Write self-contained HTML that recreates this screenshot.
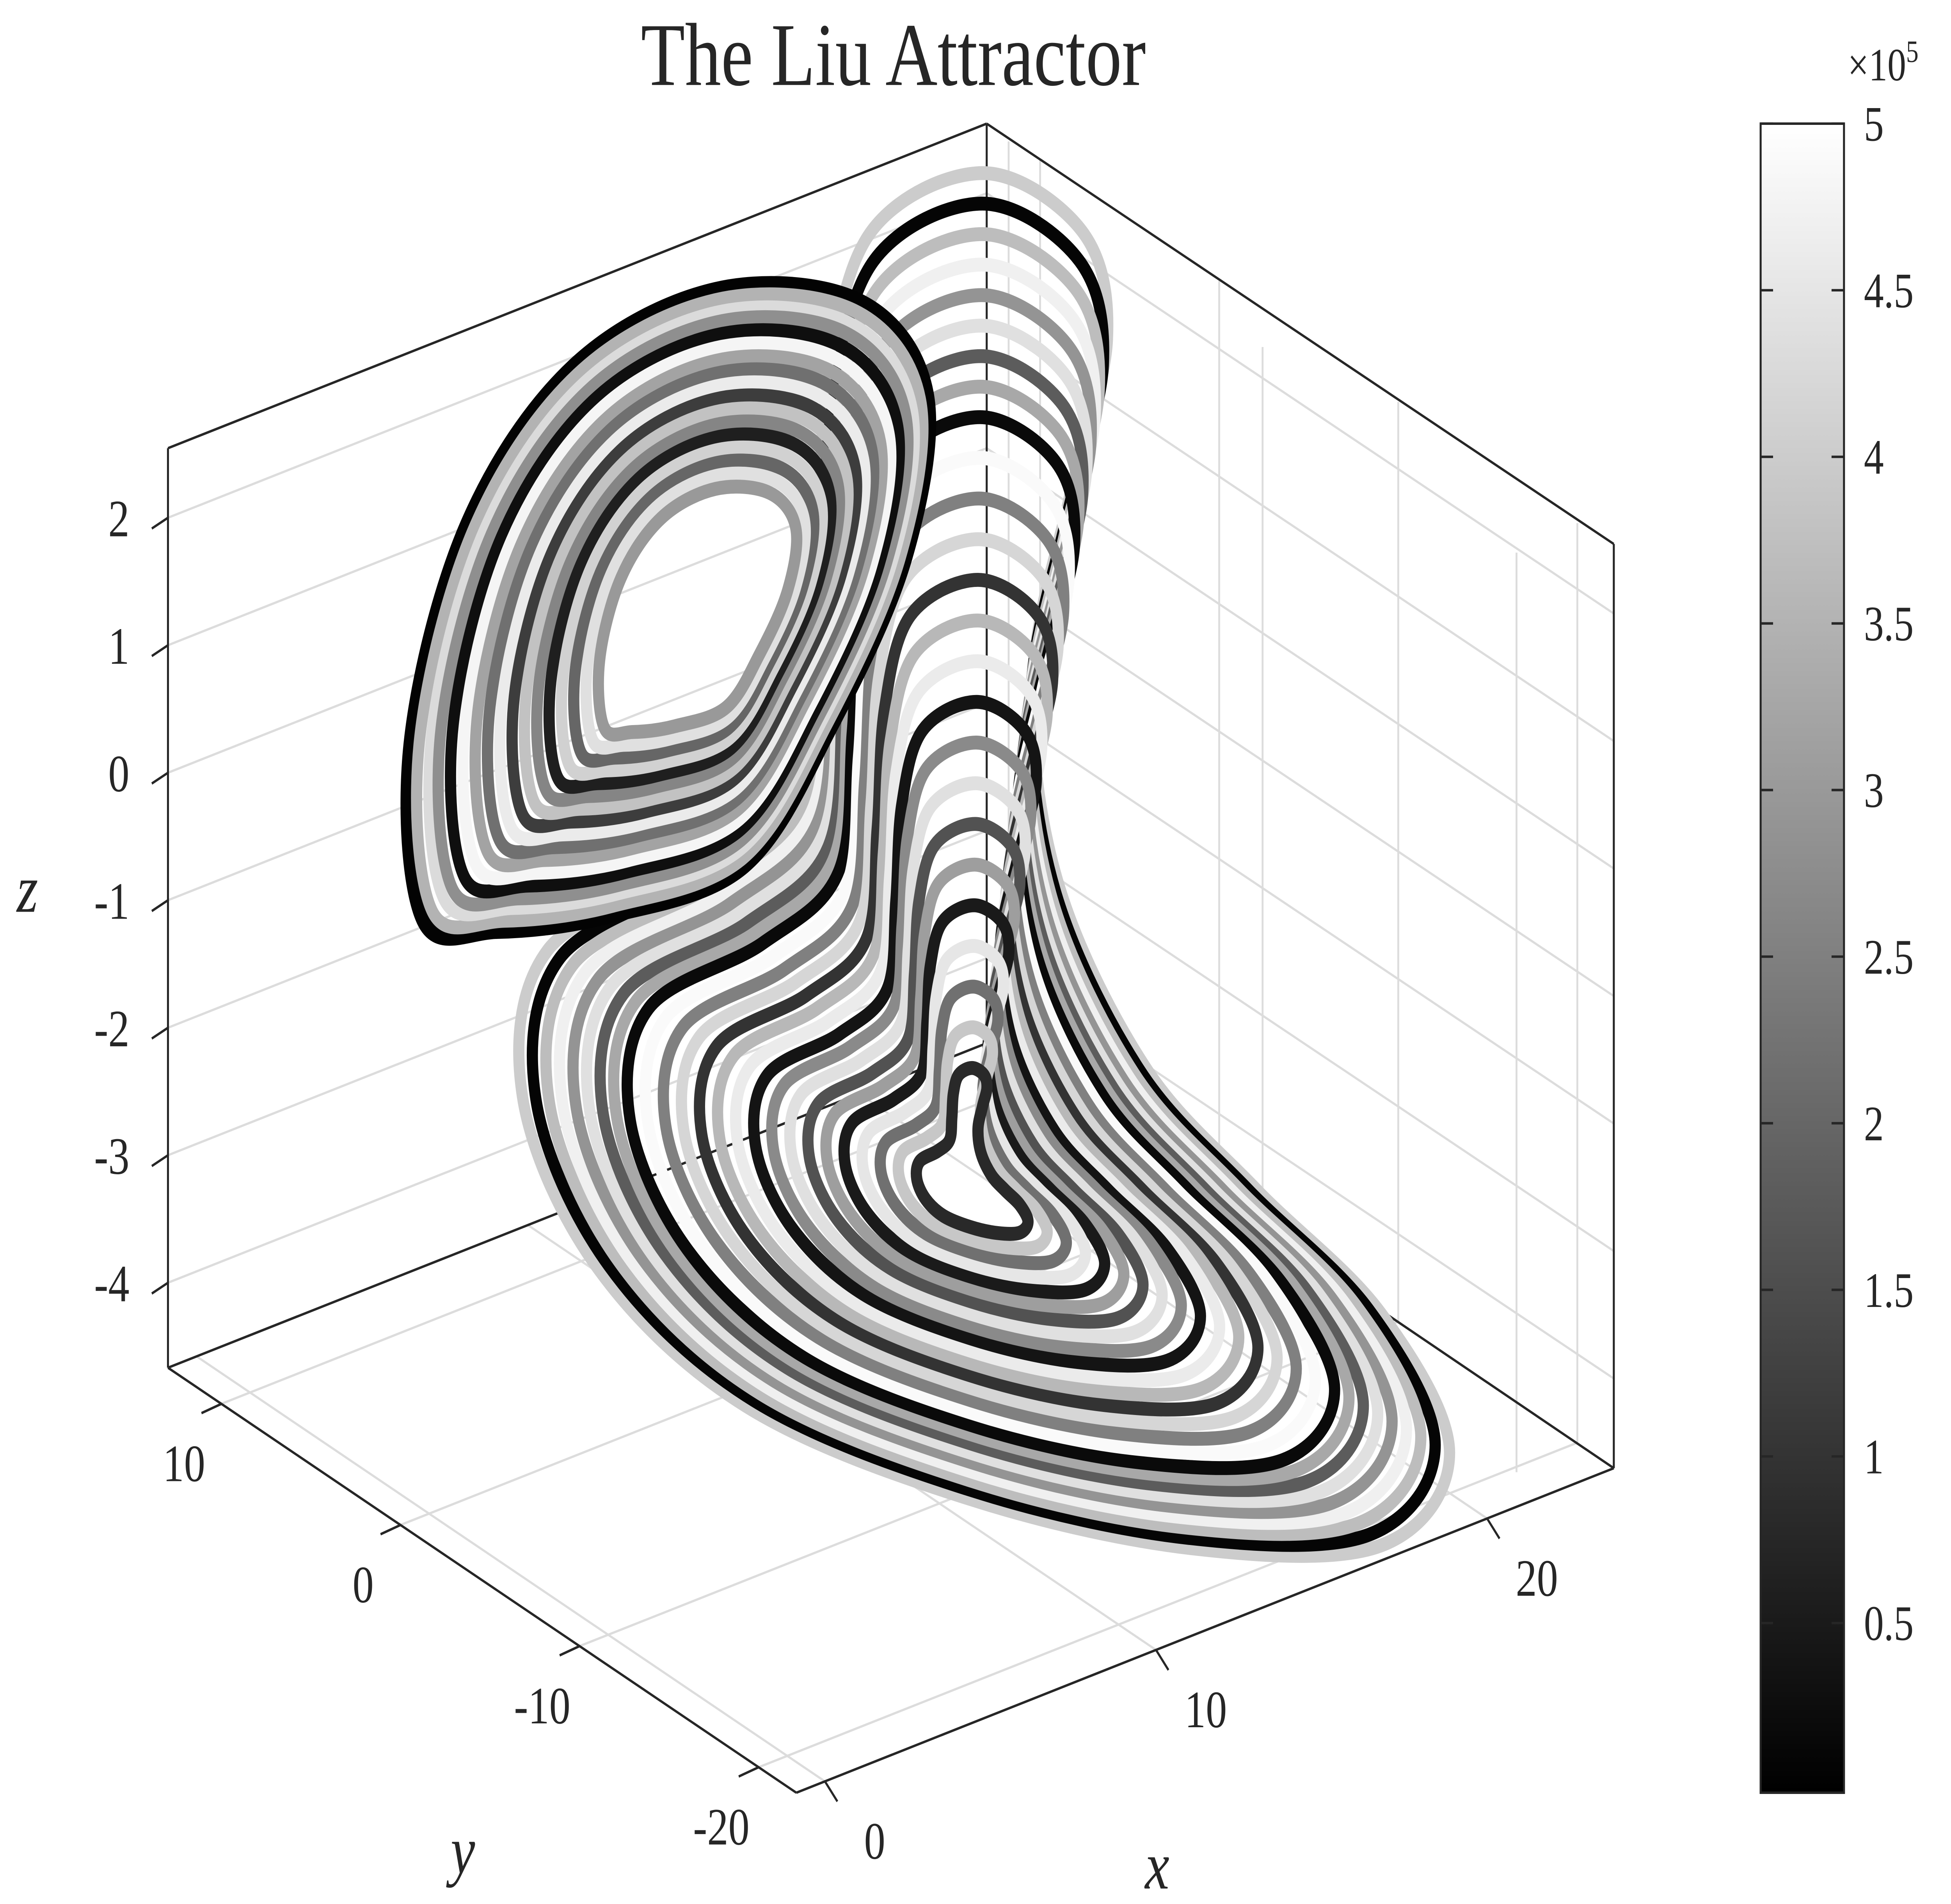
<!DOCTYPE html>
<html><head><meta charset="utf-8"><style>
html,body{margin:0;padding:0;background:#fff;overflow:hidden;width:100vw;height:100vh;}
svg{display:block;position:absolute;left:0;top:0;width:100vw;height:100vh;}
text{font-family:"Liberation Serif",serif;fill:#262626;}
</style></head><body>
<svg id="chart" viewBox="0 0 1568 1232" preserveAspectRatio="none" xmlns="http://www.w3.org/2000/svg">
<defs><linearGradient id="cg" x1="0" y1="1" x2="0" y2="0"><stop offset="0" stop-color="#000"/><stop offset="1" stop-color="#fff"/></linearGradient></defs>
<text x="718" y="55" font-size="58" text-anchor="middle">The Liu Attractor</text>
<g id="grid" stroke="#dcdcdc" stroke-width="1.5" fill="none"></g>
<g id="box" stroke="#262626" stroke-width="1.6" fill="none"></g>
<g id="traj" fill="none" stroke-linecap="round" stroke-linejoin="round"></g>
<g id="ticks"></g>
<text x="22" y="590" font-size="44" font-style="italic" text-anchor="middle">z</text>
<text x="372" y="1212" font-size="44" font-style="italic" text-anchor="middle">y</text>
<text x="930" y="1222" font-size="44" font-style="italic" text-anchor="middle">x</text>
<g>
<rect x="1415" y="80" width="67" height="1080" fill="url(#cg)" stroke="#262626" stroke-width="1.6"/>
<text x="1485" y="52" font-size="30">×10<tspan font-size="20" dy="-12">5</tspan></text>
<g id="cbticks"></g>
</g>
</svg>
<script>
const zTicks=[2,1,0,-1,-2,-3,-4];
const yTicks=[10,0,-10,-20];
const xTicks=[0,10,20];
const cbTicks=[5,4.5,4,3.5,3,2.5,2,1.5,1,0.5];
// trajectory loops: scale factor and time value (x10^5)
const leftScales=[1.0,0.97,0.93,0.9,0.86,0.82,0.78,0.74,0.7,0.66,0.62,0.58,0.54,0.5,0.46,0.42,0.38];
const leftTimes=[0.05,3.5,4.3,2.8,0.3,4.8,3.2,2.2,4.6,1.2,3.8,2.6,0.6,4.1,2.0,4.4,3.0];
const rightScales=[1.0,0.97,0.94,0.91,0.88,0.85,0.82,0.79,0.76,0.72,0.68,0.64,0.6,0.56,0.52,0.48,0.44,0.4,0.36,0.32,0.28,0.24,0.2,0.16,0.12];
const rightTimes=[4.0,0.1,3.7,4.7,2.9,4.4,1.8,3.3,0.2,4.9,2.5,4.2,1.0,3.6,4.6,0.4,2.7,4.4,1.6,3.1,0.5,4.5,2.2,3.9,0.8];
const leftLoop=[[340,595],[330,480],[375,340],[460,238],[575,188],[690,195],[745,255],[728,360],[668,470],[598,560],[490,592],[400,602]];
const rightLoop=[[640,500],[560,560],[440,615],[420,710],[480,820],[600,910],[780,970],[960,1002],[1110,1000],[1165,940],[1110,850],[1010,770],[920,690],[850,570],[830,440],[860,320],[890,220],[870,150],[790,112],[700,150],[665,250],[655,380]];
const NS='http://www.w3.org/2000/svg';
function mk(t,a,p){const e=document.createElementNS(NS,t);for(const k in a)e.setAttribute(k,a[k]);(p||document.getElementById('chart')).appendChild(e);return e;}
const zY=z=>500-z*82.5;
const yPos=v=>{const f=0.37+(0-v)*0.0285;return [135+f*505,885+f*275];};
const xPos=v=>{const f=0.035+v*0.0405;return [640+f*657,1160-f*210];};
const cbY=v=>1158-v*215.6;
const gray=t=>{const g=Math.round(255*t/5);return `rgb(${g},${g},${g})`;};
const grid=document.getElementById('grid'),box=document.getElementById('box'),tk=document.getElementById('ticks');
zTicks.forEach(z=>{const y=zY(z);
 let l=mk('line',{x1:135,y1:y,x2:793,y2:y-210},grid);
 l=mk('line',{x1:793,y1:y-210,x2:1297,y2:y+62},grid);
 l=mk('line',{x1:135,y1:y,x2:122,y2:y+7,stroke:'#262626','stroke-width':1.6},tk);
 const t=mk('text',{x:104,y:y+12,'font-size':34,'text-anchor':'end'},tk);t.textContent=z;});
yTicks.forEach(v=>{const [px,py]=yPos(v);const dx=793-135,dy=675-885;
 let l=mk('line',{x1:px,y1:py,x2:px+dx,y2:py+dy},grid);
 const bx=px+dx,by=py+dy;l=mk('line',{x1:bx,y1:by,x2:bx,y2:by-595},grid);
 l=mk('line',{x1:px,y1:py,x2:px-16,y2:py+6,stroke:'#262626','stroke-width':1.6},tk);
 const t=mk('text',{x:px-30,y:py+50,'font-size':34,'text-anchor':'middle'},tk);t.textContent=v;});
xTicks.forEach(v=>{const [px,py]=xPos(v);
 let l=mk('line',{x1:px,y1:py,x2:px-505,y2:py-275},grid);
 const wx=793+(px-640)*0.767,wy=675+(px-640)*0.5;
 l=mk('line',{x1:wx,y1:wy,x2:wx,y2:wy-595},grid);
 l=mk('line',{x1:px,y1:py,x2:px+10,y2:py+13,stroke:'#262626','stroke-width':1.6},tk);
 const t=mk('text',{x:px+40,y:py+50,'font-size':34,'text-anchor':'middle'},tk);t.textContent=v;});
[[135,290,793,80],[793,80,1297,352],[135,290,135,885],[1297,352,1297,950],[135,885,640,1160],[640,1160,1297,950],[135,885,793,675],[793,675,1297,950],[793,80,793,675]].forEach(s=>{
 const l=mk('line',{x1:s[0],y1:s[1],x2:s[2],y2:s[3]},box);});
function smooth(pts){const n=pts.length;let d=`M${pts[0][0]},${pts[0][1]}`;
 for(let i=0;i<n;i++){const p0=pts[(i-1+n)%n],p1=pts[i],p2=pts[(i+1)%n],p3=pts[(i+2)%n];
  d+=` C${p1[0]+(p2[0]-p0[0])/6},${p1[1]+(p2[1]-p0[1])/6} ${p2[0]-(p3[0]-p1[0])/6},${p2[1]-(p3[1]-p1[1])/6} ${p2[0]},${p2[1]}`;}
 return d;}
const traj=document.getElementById('traj');
function drawFamily(loop,scales,times,cx,cy,name){
 scales.forEach((s,i)=>{const pts=loop.map(p=>[cx+(p[0]-cx)*s,cy+(p[1]-cy)*s]);
  const p=mk('path',{d:smooth(pts),stroke:gray(times[i]),'stroke-width':i===0&&times[i]<0.2?11:9},traj);
  });}
drawFamily(rightLoop,rightScales,rightTimes,780,770,'right-lobe-loop');
drawFamily(leftLoop,leftScales,leftTimes,575,395,'left-lobe-loop');
const cb=document.getElementById('cbticks');
cbTicks.forEach(v=>{const y=cbY(v);
 let l=mk('line',{x1:1415,y1:y,x2:1425,y2:y,stroke:'#262626','stroke-width':1.6},cb);
 l=mk('line',{x1:1472,y1:y,x2:1482,y2:y,stroke:'#262626','stroke-width':1.6},cb);
 const t=mk('text',{x:1498,y:y+11,'font-size':32},cb);t.textContent=v;});
</script>
</body></html>
